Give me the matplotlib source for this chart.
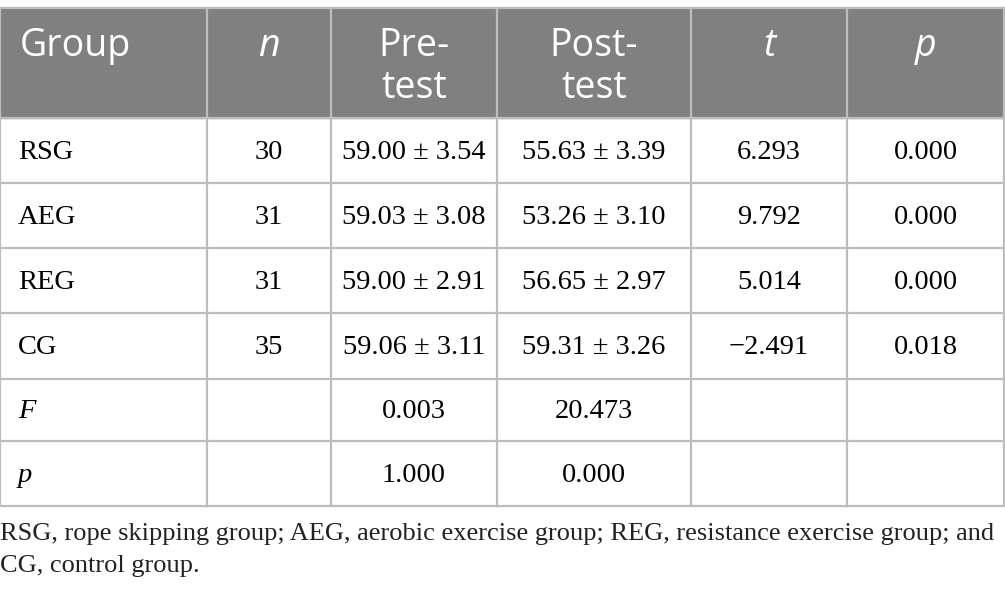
import matplotlib.pyplot as plt

# table content
headers = ["Group", "n", "Pre-\ntest", "Post-\ntest", "t", "p"]
groups = ["RSG", "AEG", "REG", "CG", "F", "p"]
n_vals = ["30", "31", "31", "35", "", ""]
pre_test = ["59.00 ± 3.54", "59.03 ± 3.08", "59.00 ± 2.91", "59.06 ± 3.11", "0.003", "1.000"]
post_test = ["55.63 ± 3.39", "53.26 ± 3.10", "56.65 ± 2.97", "59.31 ± 3.26", "20.473", "0.000"]
t_vals = ["6.293", "9.792", "5.014", "\u22122.491", "", ""]
p_vals = ["0.000", "0.000", "0.000", "0.018", "", ""]
footnote_lines = ["RSG, rope skipping group; AEG, aerobic exercise group; REG, resistance exercise group; and",
                  "CG, control group."]

W, H = 1005, 600
col_edges = [0, 207, 331, 497, 691, 847, 1004]
row_edges = [8, 118, 183, 248, 313, 379, 441, 506]
header_bg = "#808080"
grid_col = "#bdbdbd"

fig = plt.figure(figsize=(W / 100, H / 100), dpi=100)
ax = fig.add_axes([0, 0, 1, 1])
ax.set_xlim(0, W)
ax.set_ylim(H, 0)
ax.axis("off")

# header background
ax.axhspan(row_edges[0], row_edges[1], xmin=0, xmax=col_edges[-1] / W, color=header_bg, zorder=0)

# grid lines
for y in row_edges:
    ax.plot([col_edges[0], col_edges[-1]], [y, y], color=grid_col, lw=1.6, zorder=1)
for x in col_edges:
    ax.plot([x, x], [row_edges[0], row_edges[-1]], color=grid_col, lw=1.6, zorder=1)

# header text (first line at top, second line below)
for i, h in enumerate(headers):
    style = "italic" if h in ("n", "t", "p") else "normal"
    lines = h.split("\n")
    for k, line in enumerate(lines):
        y = 46 + 42 * k
        if i == 0:
            ax.text(20, y, line, color="white", fontsize=27, family="Open Sans",
                    ha="left", va="center", style=style)
        else:
            cx = (col_edges[i] + col_edges[i + 1]) / 2
            ax.text(cx, y, line, color="white", fontsize=27, family="Open Sans",
                    ha="center", va="center", style=style)

# body
columns = [groups, n_vals, pre_test, post_test, t_vals, p_vals]
for r in range(len(groups)):
    cy = (row_edges[r + 1] + row_edges[r + 2]) / 2 + 2
    for c, col in enumerate(columns):
        txt = col[r]
        if not txt:
            continue
        if c == 0:
            style = "italic" if txt in ("F", "p") else "normal"
            ax.text(18, cy, txt, fontsize=20.5, family="Liberation Serif",
                    ha="left", va="center", style=style)
        else:
            cx = (col_edges[c] + col_edges[c + 1]) / 2
            ax.text(cx, cy, txt, fontsize=20.5, family="Liberation Serif",
                    ha="center", va="center")

# footnote
for k, line in enumerate(footnote_lines):
    ax.text(0, 534 + 32 * k, line, fontsize=19.0, family="Liberation Serif",
            ha="left", va="center", color="#222222")

fig.savefig("out.png", dpi=100)
